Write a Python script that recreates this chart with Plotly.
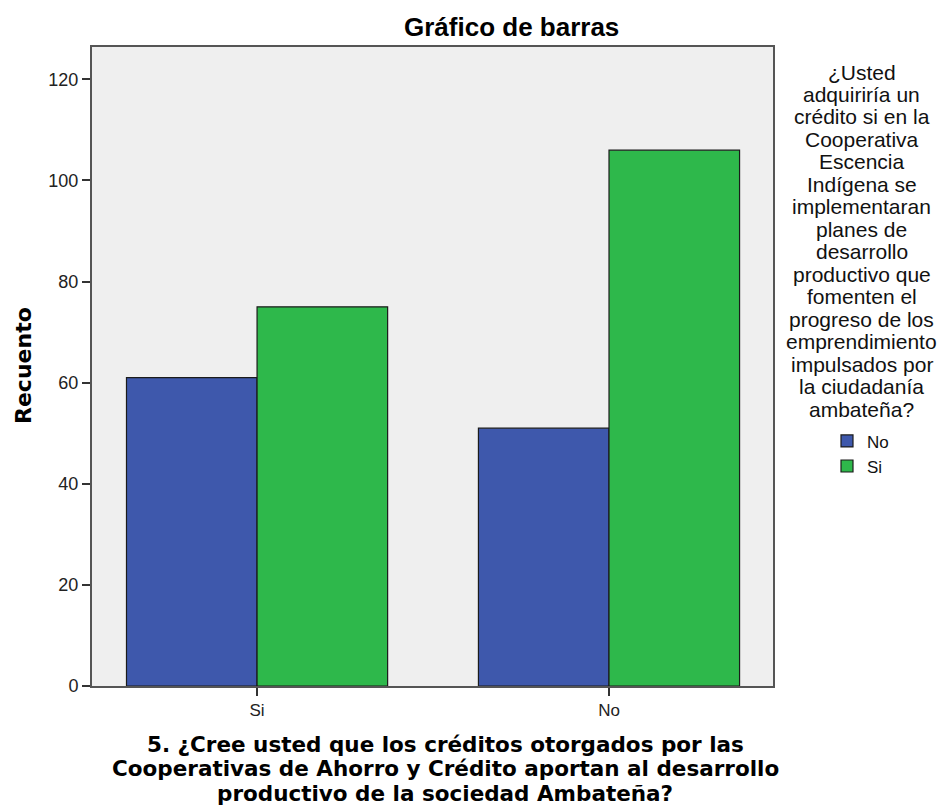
import plotly.graph_objects as go

# Counts per answer to question 5 (x) split by answer to the credit question (legend)
categories = ["Si", "No"]
series_names = ["No", "Si"]
counts_no = [61, 51]
counts_si = [75, 106]
series_colors = ["#3e58ac", "#2eb84b"]
y_ticks = [0, 20, 40, 60, 80, 100, 120]

legend_title_lines = [
    "¿Usted", "adquiriría un", "crédito si en la", "Cooperativa", "Escencia",
    "Indígena se", "implementaran", "planes de", "desarrollo",
    "productivo que", "fomenten el", "progreso de los", "emprendimiento",
    "impulsados por", "la ciudadanía", "ambateña?",
]
x_title_lines = [
    "5. ¿Cree usted que los créditos otorgados por las",
    "Cooperativas de Ahorro y Crédito aportan al desarrollo",
    "productivo de la sociedad Ambateña?",
]

FONT = "Liberation Sans, Arial, sans-serif"
WIDE_BOLD = "DejaVu Sans, Verdana, sans-serif"

W, H = 944, 808
L, R, T, B = 92, 171, 47, 122
PW, PH = W - L - R, H - T - B


def px_x(x):
    return (x - L) / PW


def px_y(y):
    return (H - B - y) / PH


fig = go.Figure()
for name, vals, col in zip(series_names, [counts_no, counts_si], series_colors):
    fig.add_trace(go.Bar(
        x=categories, y=vals, name=name,
        marker=dict(color=col, line=dict(color="#1b1b1b", width=1.2)),
    ))

fig.update_layout(
    width=W, height=H,
    margin=dict(l=L, r=R, t=T, b=B),
    paper_bgcolor="white", plot_bgcolor="#efefef",
    barmode="group", bargap=0.258, bargroupgap=0,
    font=dict(family=FONT, size=17, color="#222"),
    showlegend=True,
    legend=dict(
        x=1.0, xanchor="left", y=0.411, yanchor="top",
        xref="paper", yref="paper",
        font=dict(family=FONT, size=17, color="#111"),
        itemwidth=30, tracegroupgap=0,
        bgcolor="rgba(0,0,0,0)",
        borderwidth=0,
        indentation=54,
    ),
    xaxis=dict(
        range=[-0.469, 1.466],
        showline=True, linecolor="#555", linewidth=2, mirror=True,
        ticks="outside", ticklen=8, tickcolor="#333", tickwidth=1.5,
        tickfont=dict(family=FONT, size=17, color="#222"),
        showgrid=False, zeroline=False,
    ),
    yaxis=dict(
        range=[0, 126.4],
        tickvals=y_ticks,
        showline=True, linecolor="#555", linewidth=2, mirror=True,
        ticks="outside", ticklen=8, tickcolor="#333", tickwidth=2,
        tickfont=dict(family=FONT, size=18, color="#222"),
        showgrid=False, zeroline=False,
    ),
)

# Chart title
fig.add_annotation(
    text="<b>Gráfico de barras</b>", xref="paper", yref="paper",
    x=px_x(511), y=px_y(27), xanchor="center", yanchor="middle",
    showarrow=False, font=dict(family=FONT, size=26, color="#000"),
)

# Value axis title
fig.add_annotation(
    text="<b>Recuento</b>", xref="paper", yref="paper",
    x=px_x(23), y=px_y(366), xanchor="center", yanchor="middle",
    textangle=-90, showarrow=False,
    font=dict(family=WIDE_BOLD, size=22, color="#000"),
)

# Category axis title, one centred line at a time
for i, line in enumerate(x_title_lines):
    fig.add_annotation(
        text="<b>" + line + "</b>", xref="paper", yref="paper",
        x=px_x(445), y=px_y(744 + 24.5 * i), xanchor="center", yanchor="middle",
        showarrow=False, font=dict(family=WIDE_BOLD, size=21.5, color="#000"),
    )

# Legend heading, wrapped into the right-hand margin
for i, line in enumerate(legend_title_lines):
    fig.add_annotation(
        text=line, xref="paper", yref="paper",
        x=px_x(862), y=px_y(72 + 22.47 * i), xanchor="center", yanchor="middle",
        showarrow=False, font=dict(family=FONT, size=21, color="#111"),
    )

fig.write_html("out.html")
